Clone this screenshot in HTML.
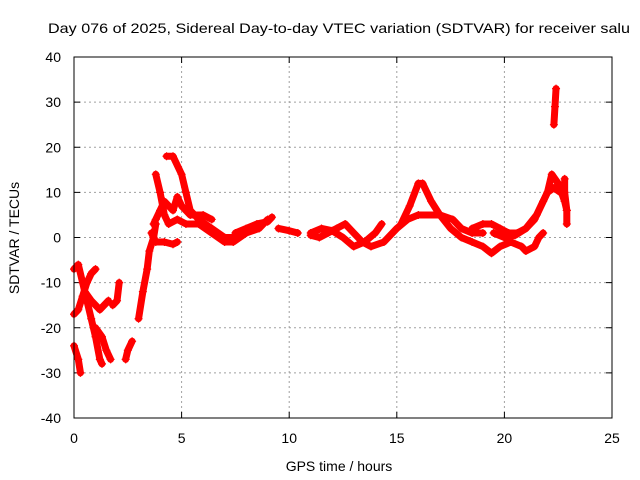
<!DOCTYPE html>
<html><head><meta charset="utf-8"><style>
body{margin:0;background:#fff}
svg{display:block;font-family:"Liberation Sans",sans-serif}
</style></head><body>
<svg id="chart" width="640" height="480" viewBox="0 0 640 480" xmlns="http://www.w3.org/2000/svg">
<rect width="640" height="480" fill="#fff"/>
<text x="48" y="33" font-size="14" textLength="582" lengthAdjust="spacingAndGlyphs">Day 076 of 2025, Sidereal Day-to-day VTEC variation (SDTVAR) for receiver salu</text>
<g id="grid"></g><g id="axes"></g><g id="data"></g>
<rect x="74" y="57" width="538" height="361" fill="none" stroke="#000" stroke-width="1"/>
<text x="339" y="471" font-size="14" text-anchor="middle">GPS time / hours</text>
<text transform="translate(19,238) rotate(-90)" font-size="14" text-anchor="middle">SDTVAR / TECUs</text>
</svg>
<script>
const xTicks=[0,5,10,15,20,25];
const yTicks=[-40,-30,-20,-10,0,10,20,30,40];
const tracks=[
[[0,-7],[0.2,-6],[0.4,-10],[0.6,-14],[0.8,-18],[1.0,-22],[1.2,-27],[1.3,-28]],
[[0.0,-17],[0.2,-16],[0.4,-13],[0.6,-10],[0.8,-8],[1.0,-7]],
[[0.5,-12],[0.8,-14],[1.2,-16],[1.6,-14]],
[[1.0,-20],[1.3,-22],[1.5,-25],[1.7,-27]],
[[1.8,-15],[2.0,-14],[2.1,-10]],
[[0,-24],[0.2,-27],[0.3,-30]],
[[2.4,-27],[2.5,-25],[2.7,-23]],
[[3.0,-18],[3.2,-12],[3.4,-7],[3.5,-3],[3.7,0],[3.8,3]],
[[3.7,3],[3.8,4],[4.0,6],[4.2,8],[4.4,7],[4.6,6],[4.8,9],[5.0,7],[5.4,5],[6.0,5],[6.4,4]],
[[3.8,14],[4.0,10],[4.2,5],[4.4,3],[4.8,4],[5.2,3],[5.8,3],[6.4,1],[7.0,-1],[7.4,-1],[8,1],[8.6,2],[9,4]],
[[4.3,18],[4.6,18],[5.0,14],[5.2,10],[5.4,6],[5.8,4],[6.4,2],[7,0],[7.5,0]],
[[3.6,1],[3.8,-1],[4.2,-1],[4.6,-1.5],[4.8,-1]],
[[7.5,1],[8,2],[8.5,3],[9,3.5],[9.2,4.5]],
[[9.5,2],[10,1.5],[10.4,1]],
[[11,0.5],[11.4,0],[11.8,1],[12.2,2],[12.6,3],[13,1],[13.4,-1],[13.8,-2],[14.4,-1],[15,2],[15.5,4],[16,5],[17,5],[17.6,4],[18,2],[18.5,1],[19,1]],
[[15.2,3],[15.6,7],[16,12],[16.2,12],[16.6,8],[17,5],[17.5,2],[18,0],[18.5,-1],[19,-2],[19.4,-3.5],[19.8,-2],[20.3,-1],[20.8,-2],[21,-3],[21.4,-2],[21.6,0],[21.8,1]],
[[11,1],[11.5,2],[12,1.5],[12.5,0],[13,-2],[13.5,-1],[14,1],[14.3,3]],
[[18.5,2],[19,3],[19.4,3],[19.8,2],[20.2,1],[20.6,1],[21,2],[21.5,5],[22,10],[22.2,14],[22.5,12],[22.8,8],[22.9,6]],
[[19.5,1],[20,0],[20.5,0.5],[21,2],[21.4,4],[21.8,8],[22,10],[22.3,11],[22.6,10]],
[[22.3,25],[22.35,29],[22.4,33]],
[[22.8,13],[22.8,10],[22.9,6],[22.9,3]]
];
const NS="http://www.w3.org/2000/svg";
const X0=74,X1=612,Y0=418,Y1=57;
function xs(t){return X0+(t-0)/(25-0)*(X1-X0);}
function ys(v){return Y0-(v+40)/80*(Y0-Y1);}
function mk(tag,a,parent){const e=document.createElementNS(NS,tag);for(const k in a)e.setAttribute(k,a[k]);parent.appendChild(e);return e;}
const grid=document.getElementById('grid'),axes=document.getElementById('axes'),data=document.getElementById('data');
xTicks.forEach(t=>{const x=xs(t);
 if(t>0&&t<25){const g=mk('line',{x1:x,x2:x,y1:Y0,y2:Y1,stroke:'#a0a0a0','stroke-dasharray':'2,3'},grid);
 
 }
 mk('line',{x1:x,x2:x,y1:Y0,y2:Y0-6,stroke:'#000'},axes);
 mk('line',{x1:x,x2:x,y1:Y1,y2:Y1+6,stroke:'#000'},axes);
 const l=mk('text',{x:x,y:443,'font-size':14,'text-anchor':'middle'},axes);l.textContent=t;
 
 
});
yTicks.forEach(v=>{const y=ys(v);
 if(v>-40&&v<40){const g=mk('line',{x1:X0,x2:X1,y1:y,y2:y,stroke:'#a0a0a0','stroke-dasharray':'2,3'},grid);
 
 }
 mk('line',{x1:X0,x2:X0+6,y1:y,y2:y,stroke:'#000'},axes);
 mk('line',{x1:X1,x2:X1-6,y1:y,y2:y,stroke:'#000'},axes);
 const l=mk('text',{x:61,y:y+5,'font-size':14,'text-anchor':'end'},axes);l.textContent=v;
 
 
});
tracks.forEach(tr=>{
 const p=mk('polyline',{points:tr.map(d=>xs(d[0])+','+ys(d[1])).join(' '),fill:'none',stroke:'#f00','stroke-width':7,'stroke-linejoin':'round','stroke-linecap':'round'},data);
 
 
 tr.forEach(d=>{const x=xs(d[0]),y=ys(d[1]);
  const m=mk('path',{d:`M${x-4},${y}H${x+4}M${x},${y-4}V${y+4}`,stroke:'#f00','stroke-width':1.2},data);
  
  
 });
});
</script>
</body></html>
